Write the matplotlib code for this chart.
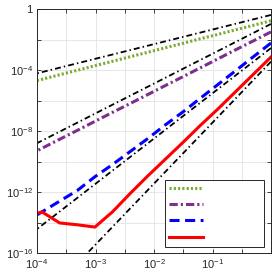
import numpy as np
import matplotlib.pyplot as plt
from matplotlib.ticker import FixedLocator, FixedFormatter, NullLocator

plt.rcParams['font.family'] = ['Liberation Sans', 'DejaVu Sans']
plt.rcParams['mathtext.fontset'] = 'custom'
plt.rcParams['mathtext.rm'] = 'Liberation Sans'
plt.rcParams['mathtext.it'] = 'Liberation Sans:italic'

# step sizes h = 2^-k, k = 0..14
h = [1, 1/2, 1/4, 1/8, 1/16, 1/32, 1/64, 1/128, 1/256, 1/512,
     1/1024, 1/2048, 1/4096, 1/8192, 1/16384]

# errors (log10)
log_green = [-0.77, -1.07, -1.36, -1.66, -1.95, -2.25, -2.54, -2.84, -3.13, -3.43,
             -3.72, -4.02, -4.31, -4.61, -4.90]
log_purple = [-1.50, -2.09, -2.67, -3.26, -3.85, -4.44, -5.02, -5.61, -6.20, -6.78,
              -7.37, -7.96, -8.54, -9.13, -9.72]
log_blue = [-2.23, -3.13, -4.04, -4.94, -5.84, -6.75, -7.60, -8.50, -9.35, -10.2,
            -11.0, -11.9, -12.6, -13.3, -14.0]
log_red = [-3.15, -4.28, -5.41, -6.54, -7.62, -8.75, -9.85, -10.95, -12.1, -13.3,
           -14.3, -14.15, -14.03, -13.31, -13.6]

# reference slopes (log10 value at h=1 and at h=1e-4)
h_ref = [1, 1e-4]
log_ref1 = [-0.39, -4.22]
log_ref2 = [-0.98, -8.80]
log_ref3 = [-2.56, -14.43]
log_ref4 = [-3.45, -19.45]

xticks = [1e-4, 10**-3.5, 1e-3, 10**-2.5, 1e-2, 10**-1.5, 1e-1, 10**-0.5, 1]
xlabels = [r'$10^{-4}$', '', r'$10^{-3}$', '', r'$10^{-2}$', '', r'$10^{-1}$', '', '']
yticks = [1e-16, 1e-14, 1e-12, 1e-10, 1e-8, 1e-6, 1e-4, 1e-2, 1]
ylabels = [r'$10^{-16}$', '', r'$10^{-12}$', '', r'$10^{-8}$', '', r'$10^{-4}$', '', '1']

fig = plt.figure(figsize=(2.72, 2.80), dpi=100)
ax = fig.add_axes([37/272, 27/280, 234/272, 244/280])

ref_style = dict(color='black', lw=1.3, dashes=(3.3, 1.7, 0.8, 1.7))

l1, = ax.loglog(h, 10**np.array(log_green), color='#77AC30', lw=2.2, dashes=(0.7, 0.7))
ax.loglog(h_ref, 10**np.array(log_ref1), **ref_style)
l2, = ax.loglog(h, 10**np.array(log_purple), color='#7E2F8E', lw=2.2, dashes=(2.7, 1.0, 0.7, 1.0))
ax.loglog(h_ref, 10**np.array(log_ref2), **ref_style)
l3, = ax.loglog(h, 10**np.array(log_blue), color='blue', lw=2.2, dashes=(3.3, 1.8))
ax.loglog(h_ref, 10**np.array(log_ref3), **ref_style)
l4, = ax.loglog(h, 10**np.array(log_red), color='red', lw=2.2)
ax.loglog(h_ref, 10**np.array(log_ref4), **ref_style)

ax.set_xlim(1e-4, 1)
ax.set_ylim(1e-16, 1)
ax.xaxis.set_major_locator(FixedLocator(xticks))
ax.xaxis.set_major_formatter(FixedFormatter(xlabels))
ax.xaxis.set_minor_locator(NullLocator())
ax.yaxis.set_major_locator(FixedLocator(yticks))
ax.yaxis.set_major_formatter(FixedFormatter(ylabels))
ax.yaxis.set_minor_locator(NullLocator())

ax.tick_params(direction='in', length=3, width=0.6, top=True, right=True,
               labelsize=8, colors='#262626', pad=3)
ax.grid(True, color='#e3e3e3', lw=0.6)
ax.set_axisbelow(True)
for s in ax.spines.values():
    s.set_color('#262626')
    s.set_linewidth(0.7)

leg = ax.legend([l1, l2, l3, l4], ['', '', '', ''], loc='lower left',
                bbox_to_anchor=(0.547, 0.025, 0.423, 0.274), mode='expand',
                borderaxespad=0, handlelength=3.0, fontsize=8, labelspacing=0.55,
                fancybox=False, framealpha=1, edgecolor='#262626')
leg.get_frame().set_linewidth(0.7)

fig.savefig('out.png', dpi=100)
